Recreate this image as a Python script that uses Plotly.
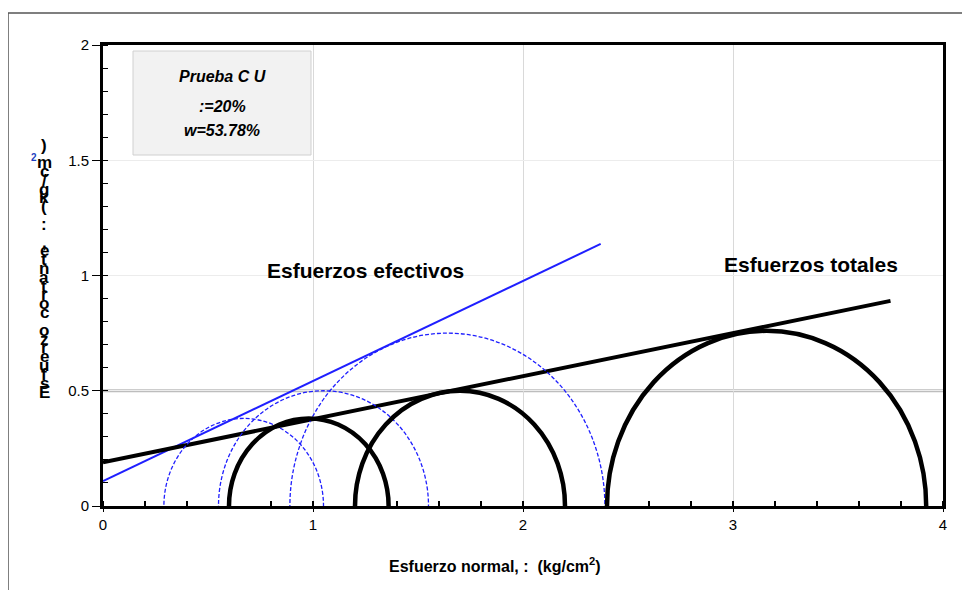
import plotly.graph_objects as go

# ---- data ----
# Mohr circles (kg/cm2): minor and major principal stresses
total_s3 = [0.60, 1.20, 2.40]
total_s1 = [1.36, 2.20, 3.92]
eff_s3 = [0.29, 0.55, 0.89]
eff_s1 = [1.05, 1.55, 2.39]

# failure envelopes (end points)
total_env_x = [0.0, 3.75]
total_env_y = [0.19, 0.89]
eff_env_x = [0.0, 2.37]
eff_env_y = [0.108, 1.137]

ref_level = [0.5]

x_ticks = [0, 1, 2, 3, 4]
y_ticks = [0, 0.5, 1, 1.5, 2]
y_tick_text = ["0", "0.5", "1", "1.5", "2"]

# ---- layout constants (window pixels; page body has an 8px offset) ----
OFF = 8
W, H = 970 - OFF, 590 - OFF
PL, PR, PT, PB = 103, 943, 45, 506          # plot area in window pixels
L, R, T, B = PL - OFF, 970 - PR, PT - OFF, 590 - PB


def px(xp):
    return (xp - PL) / (PR - PL)


def py(yp):
    return (PB - yp) / (PB - PT)


FONT = "Liberation Sans, Arial, sans-serif"

fig = go.Figure()

fig.add_trace(go.Scatter(x=eff_env_x, y=eff_env_y, mode="lines",
                         line=dict(color="#1f1fff", width=2), showlegend=False,
                         hoverinfo="skip"))
fig.add_trace(go.Scatter(x=total_env_x, y=total_env_y, mode="lines",
                         line=dict(color="black", width=4), showlegend=False,
                         hoverinfo="skip"))

shapes = []
for lv in ref_level:
    shapes.append(dict(type="line", xref="x", yref="y", x0=0, x1=4, y0=lv, y1=lv,
                       line=dict(color="#bdbdbd", width=3), layer="below"))
for s3, s1 in zip(eff_s3, eff_s1):
    r = (s1 - s3) / 2
    shapes.append(dict(type="circle", xref="x", yref="y", x0=s3, x1=s1, y0=-r, y1=r,
                       line=dict(color="#1f1fff", width=1.3, dash="4px,2px"),
                       layer="above"))
for s3, s1 in zip(total_s3, total_s1):
    r = (s1 - s3) / 2
    shapes.append(dict(type="circle", xref="x", yref="y", x0=s3, x1=s1, y0=-r, y1=r,
                       line=dict(color="black", width=4.5), layer="above"))

# info box
shapes.append(dict(type="rect", xref="paper", yref="paper",
                   x0=px(133), x1=px(311), y0=py(155), y1=py(51),
                   fillcolor="#f2f2f2", line=dict(color="#d0d0d0", width=1),
                   layer="below"))
# outer frame
shapes.append(dict(type="rect", xref="paper", yref="paper",
                   x0=px(8), x1=px(966), y0=py(610), y1=py(13),
                   line=dict(color="#555555", width=1.5), layer="below"))


def ann(x, y, text, size, color="black", **kw):
    d = dict(xref="paper", yref="paper", x=px(x), y=py(y), text=text,
             showarrow=False, xanchor="center", yanchor="middle",
             font=dict(family=FONT, size=size, color=color))
    d.update(kw)
    return d


annotations = [
    ann(222, 76, "<b><i>Prueba C U</i></b>", 16),
    ann(222, 106, "<b><i>:=20%</i></b>", 16),
    ann(222, 130, "<b><i>w=53.78%</i></b>", 16),
    ann(365, 270, "<b>Esfuerzos efectivos</b>", 21),
    ann(811, 264, "<b>Esfuerzos totales</b>", 21),
    ann(495, 565, "<b>Esfuerzo normal, :  (kg/cm<sup>2</sup>)</b>", 16),
]

# garbled stacked y label (as in the reference)
ylabel = "Esfuerzo cortante, : (kg/cm2)"
chars = list(ylabel)[::-1]
y0 = 145
step = 247 / (len(chars) - 1)
for i, ch in enumerate(chars):
    if ch == " ":
        continue
    if ch == "2":
        annotations.append(ann(34, y0 + i * step + 4, "<b>2</b>", 10, "#1f3fbf"))
    else:
        annotations.append(ann(44, y0 + i * step, f"<b>{ch}</b>", 17))

fig.update_layout(
    width=W, height=H,
    margin=dict(l=L, r=R, t=T, b=B),
    paper_bgcolor="white", plot_bgcolor="white",
    shapes=shapes, annotations=annotations,
    font=dict(family=FONT, size=15, color="black"),
    showlegend=False,
)
fig.update_xaxes(range=[0, 4], tickvals=x_ticks, ticktext=[str(v) for v in x_ticks],
                 showline=True, linecolor="black", linewidth=3, mirror=True,
                 ticks="outside", ticklen=3, tickcolor="black", tickwidth=1,
                 showgrid=True, gridcolor="#d9d9d9", gridwidth=1,
                 zeroline=False, fixedrange=True,
                 minor=dict(dtick=0.2, ticks="inside", ticklen=5,
                            tickcolor="black", tickwidth=2, showgrid=False),
                 tickfont=dict(family=FONT, size=15))
fig.update_yaxes(range=[0, 2], tickvals=y_ticks, ticktext=y_tick_text,
                 showline=True, linecolor="black", linewidth=3, mirror=True,
                 ticks="outside", ticklen=8, tickcolor="black", tickwidth=1,
                 showgrid=True, gridcolor="#ececec", gridwidth=1,
                 zeroline=False, fixedrange=True,
                 minor=dict(dtick=0.1, ticks="inside", ticklen=5,
                            tickcolor="black", tickwidth=1, showgrid=False),
                 tickfont=dict(family=FONT, size=15))

fig.write_html("out.html")
